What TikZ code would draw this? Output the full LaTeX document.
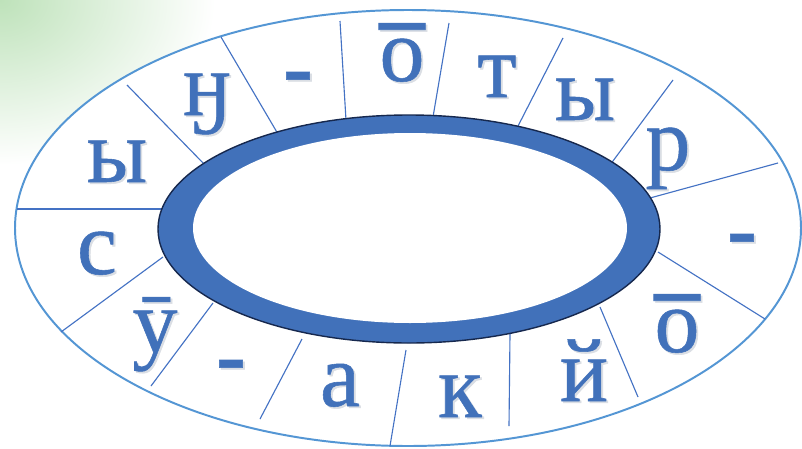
\documentclass[tikz,border=0pt]{standalone}
\usepackage{fontspec}
\setmainfont{Liberation Serif}
\usepackage{xcolor}
\definecolor{ringblue}{RGB}{65,113,186}
\definecolor{rimblue}{RGB}{84,150,212}
\definecolor{spokeblue}{RGB}{68,114,196}
\definecolor{ringedge}{RGB}{22,40,78}
\definecolor{leafgreen}{RGB}{190,226,186}
\definecolor{shadowgrey}{RGB}{218,222,228}
\usepackage{tikz}
\usetikzlibrary{positioning}

\tikzset{
    letter/.style={anchor=base, inner sep=0pt, text=ringblue, font=\fontsize{64}{64}\selectfont\addfontfeatures{FakeBold=0.6}},
    spoke/.style={spokeblue, line width=0.8pt},
}
\newcommand{\ringletter}[3]{%
    \node[letter] (#1) at (#2) {\rlap{\kern1.3pt\raisebox{-1.3pt}{\color{shadowgrey}#3}}#3};}
\newcommand{\obar}{\ooalign{о\cr\hidewidth\raisebox{-0.11em}{\bfseries\char"00AF}\hidewidth\cr}}

\begin{document}
\begin{tikzpicture}[x=0.025cm, y=-0.025cm]
    \useasboundingbox (0,0) rectangle (802,448);
    % green corner
    \begin{scope}
        \clip (0,0) rectangle (802,448);
        \shade[inner color=leafgreen, outer color=white] (0,0) ellipse [x radius=215, y radius=165];
    \end{scope}
    \fill[white] (408,228) ellipse [x radius=393, y radius=218];
    \draw[rimblue, line width=1.4pt] (408,228) ellipse [x radius=393, y radius=218];

    % spokes
    \draw[spoke] (17,209) -- (165,209);
    \draw[spoke] (127,85) -- (205,165);
    \draw[spoke] (221,37) -- (278,134);
    \draw[spoke] (340,21) -- (346,120);
    \draw[spoke] (449,23) -- (433,117);
    \draw[spoke] (563,38) -- (516,130);
    \draw[spoke] (673,80) -- (610,165);
    \draw[spoke] (778,163) -- (650,198);
    \draw[spoke] (765,319) -- (658,252);
    \draw[spoke] (638,397) -- (600,307);
    \draw[spoke] (509,426) -- (510,334);
    \draw[spoke] (390,446) -- (406,350);
    \draw[spoke] (260,419) -- (302,339);
    \draw[spoke] (151,386) -- (213,303);
    \draw[spoke] (61,332) -- (163,257);

    % ring
    \fill[ringblue, draw=ringedge, line width=1pt] (409,229) ellipse [x radius=251, y radius=114];
    \fill[white] (410,228) ellipse [x radius=217, y radius=95];

    % letters
    \ringletter{sy1}{117,182}{ы}
    \ringletter{sng}{207,115}{ӈ}
    \ringletter{dash1}{298,97}{\bfseries -}
    \ringletter{so1}{402,81}{\obar}
    \ringletter{st}{497,97}{т}
    \ringletter{sy2}{585,120}{ы}
    \ringletter{sr}{668,170}{р}
    \ringletter{dash2}{742,259}{\bfseries -}
    \ringletter{so2}{677,352}{\obar}
    \ringletter{sj}{584,401}{й}
    \ringletter{sk}{460,417}{к}
    \ringletter{sa}{340,406}{а}
    \ringletter{dash3}{231,385}{\bfseries -}
    \ringletter{su}{155,352}{ӯ}
    \ringletter{ss}{97,274}{с}
\end{tikzpicture}
\end{document}
